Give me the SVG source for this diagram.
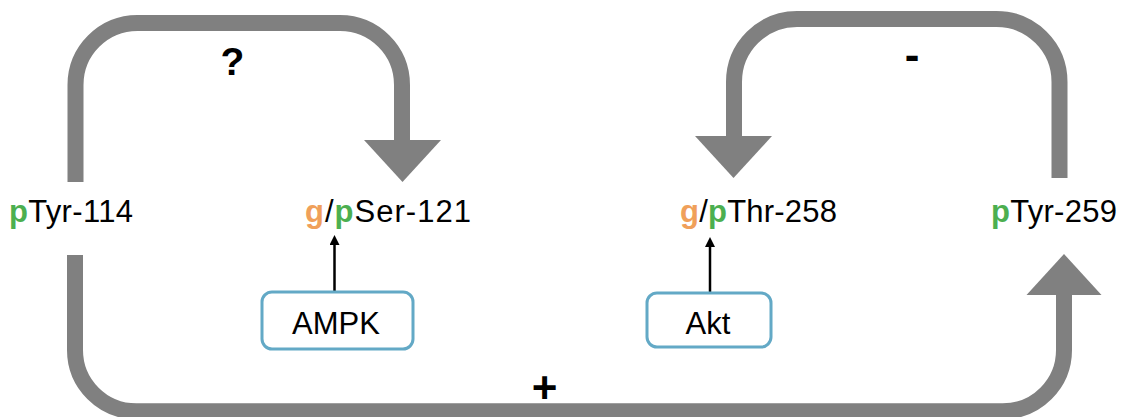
<svg xmlns="http://www.w3.org/2000/svg" width="1122" height="417" viewBox="0 0 1122 417">
<style>
.flow{fill:none;stroke:#808080;stroke-width:16}
.head{fill:#808080}
.lbl{font-family:"Liberation Sans",Arial,sans-serif;font-size:31px;fill:#000}
.g{fill:#f0a05a;font-weight:bold}
.p{fill:#4caf50;font-weight:bold}
.sign{font-family:"Liberation Sans",Arial,sans-serif;font-weight:bold;fill:#000;text-anchor:middle}
.box{fill:#fff;stroke:#63a9c6;stroke-width:3}
.kin{font-family:"Liberation Sans",Arial,sans-serif;font-size:31px;fill:#000;text-anchor:middle}
.act{stroke:#000;stroke-width:2.5;fill:none}
</style>
<defs>
<marker id="ah" markerUnits="userSpaceOnUse" markerWidth="10" markerHeight="10" refX="5" refY="5" orient="auto" viewBox="0 0 10 10">
<path d="M0,0 L10,5 L0,10 z" fill="#000"/>
</marker>
</defs>
<rect width="1122" height="417" fill="#fff"/>
<g id="connectors">
<path class="flow" d="M75.5 182 V85 A62 62 0 0 1 137.5 23 H340 A62 62 0 0 1 402 85 V141"/>
<polygon class="head" points="364,140 441,140 402.5,182"/>
<path class="flow" d="M1059.5 178 V82 A63 63 0 0 0 996.5 19 H797 A63 63 0 0 0 734 82 V137"/>
<polygon class="head" points="695,136 772,136 733.5,178"/>
<path class="flow" d="M75 255 V350 A61.3 61.3 0 0 0 136.3 411.3 H1002.7 A61.3 61.3 0 0 0 1064 350 V294"/>
<polygon class="head" points="1026.5,295 1101.5,295 1064,254"/>
<line class="act" x1="334.5" y1="291" x2="334.5" y2="240" marker-end="url(#ah)"/>
<line class="act" x1="710" y1="293" x2="710" y2="242" marker-end="url(#ah)"/>
<text class="sign" x="232.5" y="75" font-size="39">?</text>
<text class="sign" x="912" y="70" font-size="44">-</text>
<text class="sign" x="544.5" y="403" font-size="44">+</text>
</g>
<g id="node-pTyr114">
<text class="lbl" x="9" y="222" textLength="124"><tspan class="p">p</tspan>Tyr-114</text>
</g>
<g id="node-pSer121">
<text class="lbl" x="305" y="222" textLength="166"><tspan class="g">g</tspan>/<tspan class="p">p</tspan>Ser-121</text>
</g>
<g id="node-pThr258">
<text class="lbl" x="680" y="222" textLength="157"><tspan class="g">g</tspan>/<tspan class="p">p</tspan>Thr-258</text>
</g>
<g id="node-pTyr259">
<text class="lbl" x="991" y="222" textLength="126"><tspan class="p">p</tspan>Tyr-259</text>
</g>
<g id="node-AMPK">
<rect class="box" x="262" y="292" width="151" height="57" rx="10"/>
<text class="kin" x="336" y="334">AMPK</text>
</g>
<g id="node-Akt">
<rect class="box" x="647" y="293" width="124" height="54" rx="10"/>
<text class="kin" x="708" y="334">Akt</text>
</g>
</svg>
